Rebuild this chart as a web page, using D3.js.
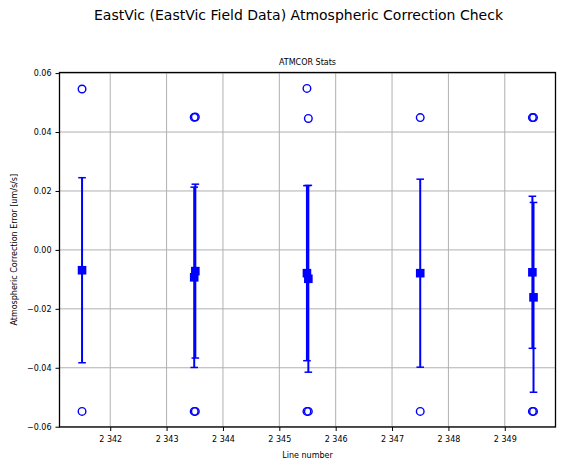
<!DOCTYPE html>
<html>
<head>
<meta charset="utf-8">
<script src="https://cdn.jsdelivr.net/npm/d3@7"></script>
<style>
  body { margin: 0; background: #fff; }
  text { font-family: "DejaVu Sans", sans-serif; fill: #000; }
</style>
</head>
<body>
<script>
// one entry per survey line / sub-line
const lineNumbers = [2341.50, 2343.51, 2343.49, 2345.49, 2345.515, 2347.50, 2349.49, 2349.51]
const meanErr = [-0.0069, -0.0072, -0.0093, -0.0079, -0.0098, -0.0079, -0.0076, -0.0161]
const stdErr = [0.0314, 0.0295, 0.0306, 0.0297, 0.0317, 0.0319, 0.0258, 0.0322]
const maxErr = [0.0546, 0.0451, 0.0450, 0.0548, 0.0446, 0.0449, 0.0449, 0.0449]
const minErr = [-0.0548, -0.0548, -0.0548, -0.0548, -0.0548, -0.0548, -0.0548, -0.0548]

const xTicks = [2342, 2343, 2344, 2345, 2346, 2347, 2348, 2349]
const yTicks = [-0.06, -0.04, -0.02, 0.00, 0.02, 0.04, 0.06]

const width = 565
const height = 470
const axL = 59.5, axR = 555.5, axT = 72.5, axB = 427

const svg = d3.select('body').append('svg')
    .attr('width', width)
    .attr('height', height)

const x = d3.scaleLinear().domain([2341.1, 2349.9]).range([axL, axR])
const y = d3.scaleLinear().domain([-0.0601, 0.0602]).range([axB, axT])

const blue = '#0000ff'

// grid
svg.append('g').selectAll('line.vgrid')
    .data(xTicks).enter().append('line')
    .attr('x1', d => x(d)).attr('x2', d => x(d))
    .attr('y1', axT).attr('y2', axB)
    .attr('stroke', '#b0b0b0').attr('stroke-width', 1)
svg.append('g').selectAll('line.hgrid')
    .data(yTicks).enter().append('line')
    .attr('x1', axL).attr('x2', axR)
    .attr('y1', d => y(d)).attr('y2', d => y(d))
    .attr('stroke', '#b0b0b0').attr('stroke-width', 1)

const data = lineNumbers.map((ln, i) => ({
    ln, mean: meanErr[i], std: stdErr[i], max: maxErr[i], min: minErr[i]
}))

const marks = svg.append('g')

// error bars
data.forEach(d => {
    const cx = x(d.ln)
    const y0 = y(d.mean - d.std)
    const y1 = y(d.mean + d.std)
    marks.append('line')
        .attr('x1', cx).attr('x2', cx).attr('y1', y0).attr('y2', y1)
        .attr('stroke', blue).attr('stroke-width', 2)
    ;[y0, y1].forEach(cy => {
        marks.append('line')
            .attr('x1', cx - 3.8).attr('x2', cx + 3.8)
            .attr('y1', cy).attr('y2', cy)
            .attr('stroke', blue).attr('stroke-width', 1.5)
    })
})

// mean squares
marks.selectAll('rect.mean')
    .data(data).enter().append('rect')
    .attr('x', d => x(d.ln) - 4.3)
    .attr('y', d => y(d.mean) - 4.3)
    .attr('width', 8.6).attr('height', 8.6)
    .attr('fill', blue)

// min / max circles
const extremes = data.flatMap(d => [{ ln: d.ln, v: d.max }, { ln: d.ln, v: d.min }])
marks.selectAll('circle.ext')
    .data(extremes).enter().append('circle')
    .attr('cx', d => x(d.ln))
    .attr('cy', d => y(d.v))
    .attr('r', 3.8)
    .attr('fill', 'none')
    .attr('stroke', blue)
    .attr('stroke-width', 1.4)

// axes
const fmtY = d => d3.format('.2f')(d).replace('-', '\u2212')
const fmtX = d => String(d).replace(/(\d)(\d{3})$/, '$1 $2')

const yAxis = svg.append('g')
    .attr('transform', `translate(${axL},0)`)
    .call(d3.axisLeft(y).tickValues(yTicks).tickSize(4).tickPadding(4).tickFormat(fmtY))
const xAxis = svg.append('g')
    .attr('transform', `translate(0,${axB})`)
    .call(d3.axisBottom(x).tickValues(xTicks).tickSize(4).tickPadding(5).tickFormat(fmtX))

;[xAxis, yAxis].forEach(a => {
    a.select('.domain').remove()
    a.selectAll('text').attr('font-size', 8).style('font-family', '"DejaVu Sans", sans-serif').attr('fill', '#000')
    a.selectAll('line').attr('stroke', '#000').attr('stroke-width', 1)
})

// frame
svg.append('rect')
    .attr('x', axL).attr('y', axT)
    .attr('width', axR - axL).attr('height', axB - axT)
    .attr('fill', 'none').attr('stroke', '#000').attr('stroke-width', 1.3)

// titles
svg.append('text')
    .attr('x', 298.5).attr('y', 20)
    .attr('text-anchor', 'middle').attr('font-size', 14)
    .text('EastVic (EastVic Field Data) Atmospheric Correction Check')
svg.append('text')
    .attr('x', (axL + axR) / 2).attr('y', 64.5)
    .attr('text-anchor', 'middle').attr('font-size', 8)
    .text('ATMCOR Stats')
svg.append('text')
    .attr('x', (axL + axR) / 2).attr('y', 458)
    .attr('text-anchor', 'middle').attr('font-size', 8)
    .text('Line number')
svg.append('text')
    .attr('transform', `translate(16.5,${(axT + axB) / 2}) rotate(-90)`)
    .attr('text-anchor', 'middle').attr('font-size', 8)
    .text('Atmospheric Correction Error [um/s/s]')
</script>
</body>
</html>
